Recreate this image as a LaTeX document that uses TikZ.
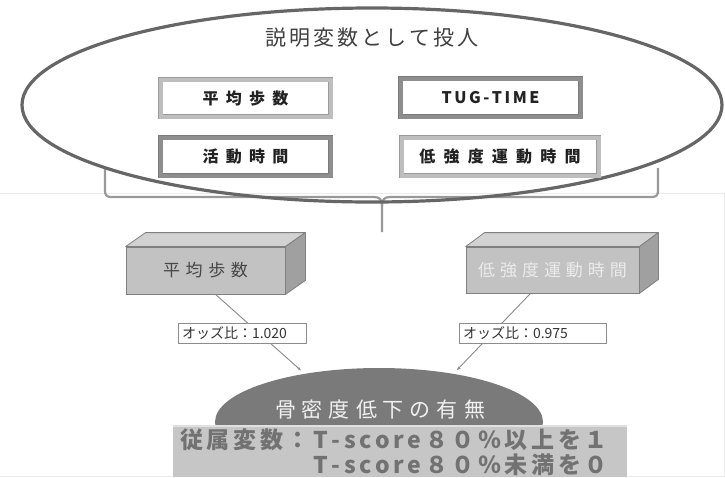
\documentclass[tikz,border=0pt]{standalone}
\usepackage{fontspec}
\setmainfont{Noto Sans CJK JP}
\usetikzlibrary{shapes.geometric,arrows.meta}
\makeatletter
\newcommand\lsp[2]{\def\lsp@gap{#1}\lsp@loop#2\relax}
\def\lsp@loop#1{\ifx\relax#1\kern-\lsp@gap\relax\else#1\kern\lsp@gap\relax\expandafter\lsp@loop\fi}
\makeatother
\definecolor{ellline}{HTML}{666666}
\definecolor{edgeL}{HTML}{9A9A9A}
\definecolor{bandL}{HTML}{BEBEBE}
\definecolor{edgeD}{HTML}{7A7A7A}
\definecolor{bandD}{HTML}{8E8E8E}
\definecolor{boxtxt}{HTML}{222222}
\definecolor{cubefront}{HTML}{C2C2C2}
\definecolor{cubetop}{HTML}{D2D2D2}
\definecolor{cubeside}{HTML}{A0A0A0}
\definecolor{cubeedge}{HTML}{808080}
\definecolor{goalfill}{HTML}{7A7A7A}
\definecolor{depfill}{HTML}{C6C6C6}
\definecolor{deptxt}{HTML}{727272}
\definecolor{conncol}{HTML}{8A8A8A}
\tikzset{
  bigell/.style={ellipse, draw=ellline, line width=3.2pt, inner sep=0pt, minimum width=700pt, minimum height=194pt},
  titletxt/.style={text=black!75, font=\fontsize{21}{21}\selectfont, inner sep=0pt},
  lightbox/.style={rectangle, fill=white, draw=edgeL, double=bandL, double distance=4pt, line width=0.7pt, inner sep=0pt, text=boxtxt, font=\fontsize{16}{16}\selectfont\bfseries},
  darkbox/.style={lightbox, draw=edgeD, double=bandD},
  brace/.style={draw=black!40, line width=2.2pt},
  sepline/.style={draw=black!8, line width=1pt},
  cubef/.style={rectangle, fill=cubefront, draw=cubeedge, line width=0.8pt, inner sep=0pt, font=\fontsize{17}{17}\selectfont},
  cubet/.style={fill=cubetop, draw=cubeedge, line width=0.8pt, line join=round},
  cubes/.style={fill=cubeside, draw=cubeedge, line width=0.8pt, line join=round},
  conn/.style={draw=conncol, line width=0.9pt, -{Stealth[length=4pt,width=3pt]}, shorten >=5pt},
  oddslbl/.style={rectangle, fill=white, draw=black!45, line width=0.8pt, inner xsep=4pt, inner ysep=0pt, minimum height=20pt, align=left, text=black!80, font=\fontsize{14}{14}\selectfont},
  goalell/.style={ellipse, fill=goalfill, inner sep=0pt, minimum width=328pt, minimum height=108pt},
  goaltxt/.style={text=white!94!black, font=\fontsize{21}{21}\selectfont, inner sep=0pt},
  depbox/.style={rectangle, fill=depfill, inner sep=0pt, minimum width=454pt, minimum height=52pt},
  deptext/.style={text=deptxt, font=\fontsize{23}{25}\selectfont\bfseries, align=right, inner sep=0pt}
}
\begin{document}
\begin{tikzpicture}[x=1pt,y=-1pt]
\useasboundingbox[fill=white] (0,0) rectangle (725,477);
% faint separator of the lower panel
\draw[sepline] (0,193) -- (724,193) -- (724,476) -- (0,476);
% brace under the ellipse
\draw[brace] (105,168) -- (105,191) .. controls (105,195) and (107,197) .. (111,197) -- (374,197) .. controls (380,197) and (382,200) .. (382,206) -- (382,232);
\draw[brace] (658,168) -- (658,191) .. controls (658,195) and (656,197) .. (652,197) -- (390,197) .. controls (384,197) and (382,200) .. (382,206);
% explanatory variables
\node[bigell] (expl) at (372,105) {};
\node[titletxt] (ttl) at (372,38) {\lsp{2.9pt}{説明変数として投人}};
\node[lightbox, minimum width=170pt, minimum height=37pt] (b1) at (245.5,98) {\lsp{7.3pt}{平均歩数}};
\node[darkbox, minimum width=180pt, minimum height=38pt] (b2) at (490.5,97.5) {\lsp{2.5pt}{TUG-TIME}};
\node[darkbox, minimum width=170pt, minimum height=38pt] (b3) at (245.5,156.5) {\lsp{7.3pt}{活動時間}};
\node[lightbox, minimum width=197pt, minimum height=38pt] (b4) at (500,156.5) {\lsp{8.2pt}{低強度運動時間}};
% outcome
\node[goalell] (goal) at (379,422) {};
\node[goaltxt] (goaltext) at (380,410) {\lsp{6pt}{骨密度低下の有無}};
\node[depbox] (dep) at (400,451) {};
\draw[white!88!black, line width=2pt] (dep.north west) ++(0,1) -- ([yshift=-1pt]dep.north east);
\node[deptext, anchor=east] (deptext) at (608,452.5) {\lsp{3.6pt}{従属変数：T-score８０％以上を１}\\\lsp{3.6pt}{T-score８０％未満を０}};
% cuboids
\node[cubef, minimum width=159pt, minimum height=47pt, text=black!72] (c1) at (205.5,270.5) {\lsp{5.6pt}{平均歩数}};
\draw[cubet] (c1.north west) -- ++(20,-14) -- ([shift={(20,-14)}]c1.north east) -- (c1.north east) -- cycle;
\draw[cubes] (c1.north east) -- ++(20,-14) -- ([shift={(20,-14)}]c1.south east) -- (c1.south east) -- cycle;
\node[cubef, minimum width=173pt, minimum height=46pt, text=white!92!black] (c2) at (552.5,270) {\lsp{5pt}{低強度運動時間}};
\draw[cubet] (c2.north west) -- ++(19,-14) -- ([shift={(19,-14)}]c2.north east) -- (c2.north east) -- cycle;
\draw[cubes] (c2.north east) -- ++(19,-14) -- ([shift={(19,-14)}]c2.south east) -- (c2.south east) -- cycle;
% connectors
\draw[conn] ([xshift=10pt]c1.south) -- (goal.147);
\draw[conn] ([xshift=-22pt]c2.south) -- (goal.33);
\node[oddslbl, text width=120pt] (o1) at (242,333) {オッズ比：1.020};
\node[oddslbl, text width=139pt] (o2) at (532.5,333) {オッズ比：0.975};
\end{tikzpicture}
\end{document}
